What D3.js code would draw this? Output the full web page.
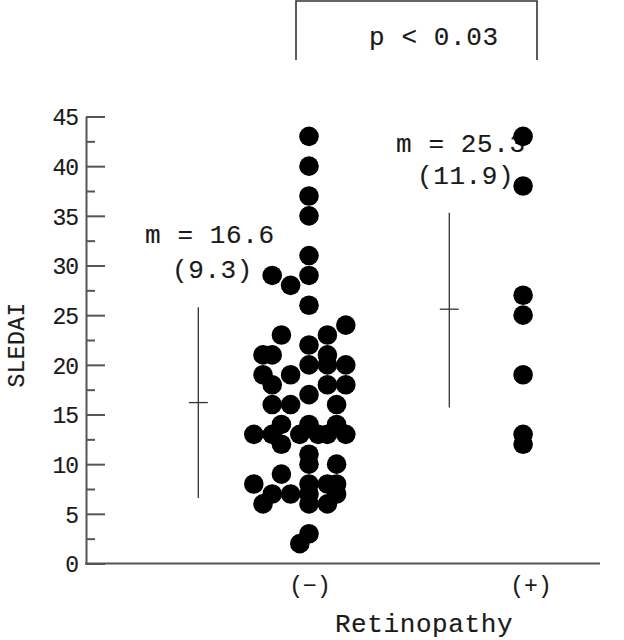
<!DOCTYPE html>
<html><head><meta charset="utf-8">
<script src="https://cdn.jsdelivr.net/npm/d3@7"></script>
<style>body{margin:0;background:#fff}</style>
</head><body>
<svg id="c" width="624" height="640"></svg>
<script>
// ---- data ----
const categories = ["(−)", "(+)"];
const negValues = [43,40,37,35,31,29,29,28,26,24,23,23,22,21,21,21,20,20,20,19,19,18,18,18,17,16,16,16,14,14,14,13,13,13,13,13,13,12,11,10,10,9,8,8,8,8,7,7,7,7,6,6,6,3,2];
const negSlots  = [0,0,0,0,0,0,-4,-2,0,4,-3,2,0,-5,-4,2,0,2,4,-5,-2,-4,2,4,0,-4,-2,3,-3,0,3,-6,-4,-1,1,2,4,-3,0,0,3,-3,-6,0,2,3,-4,-2,0,3,-5,0,2,0,-1];
const posValues = [43,38,27,25,19,13,12];
const posSlots  = [-0.75,-0.75,-0.75,-0.75,-0.75,-0.75,-0.75];
const yTicks = [0,5,10,15,20,25,30,35,40,45];
const yMinorTicks = [2.5,7.5,12.5,17.5,22.5,27.5,32.5,37.5,42.5];
const meanLabels = ["m = 16.6", "m = 25.3"];
const sdLabels = ["(9.3)", "(11.9)"];
const barMeans = [16.2, 25.6];
const barLows  = [6.6, 15.7];
const barHighs = [25.8, 35.3];
const pLabel = "p < 0.03";
const xTitle = "Retinopathy";
const yTitle = "SLEDAI";

// ---- layout ----
const slotW = 9.2, dotR = 9.8;
const barOffsets = [-110.7, -80.7];
const font = "'Liberation Mono', 'Courier New', monospace";
const ink = "#1a1a1a", axisCol = "#555";
const bigSize = 26, bigLS = 0.6;

const svg = d3.select("#c");
const y = d3.scaleLinear().domain([0,45]).range([563.5,116.5]);
const x = d3.scalePoint().domain(categories).range([309,530]);
const axisX = 86;

function styleText(sel, size, ls){
  return sel.attr("font-family",font).attr("font-size",size).attr("letter-spacing",ls)
    .attr("fill",ink).attr("stroke",ink).attr("stroke-width",0.15);
}

// y axis
const gy = svg.append("g").attr("transform",`translate(${axisX},0)`);
gy.call(d3.axisLeft(y).tickValues(yTicks).tickSizeInner(-19).tickSizeOuter(0).tickPadding(8).tickFormat(d3.format("d")));
gy.append("g").call(d3.axisLeft(y).tickValues(yMinorTicks).tickSizeInner(-9).tickSizeOuter(0).tickFormat(""))
  .select(".domain").remove();
gy.selectAll("path,line").attr("stroke",axisCol).attr("stroke-width",2);
styleText(gy.selectAll("text"), 23, -1.1).attr("dy","0.36em");

// x axis line
svg.append("line").attr("x1",axisX-1).attr("x2",600).attr("y1",y(0)).attr("y2",y(0))
  .attr("stroke",axisCol).attr("stroke-width",2);

// category labels
styleText(svg.selectAll("text.cat").data(categories).join("text").attr("class","cat")
  .attr("x",d=>x(d)+1).attr("y",593).attr("text-anchor","middle"), 23, 0)
  .text(d=>d);

// axis titles
styleText(svg.append("text").attr("x",424).attr("y",632).attr("text-anchor","middle"), bigSize, bigLS).text(xTitle);
styleText(svg.append("text").attr("transform","translate(24,345) rotate(-90)").attr("text-anchor","middle"), 23, 0.4).text(yTitle);

// mean/sd bars
categories.forEach((c,i)=>{
  const bx = x(c)+barOffsets[i];
  svg.append("line").attr("x1",bx).attr("x2",bx).attr("y1",y(barHighs[i])).attr("y2",y(barLows[i]))
    .attr("stroke","#333").attr("stroke-width",1.3);
  svg.append("line").attr("x1",bx-9.5).attr("x2",bx+9.5).attr("y1",y(barMeans[i])).attr("y2",y(barMeans[i]))
    .attr("stroke","#333").attr("stroke-width",1.3);
});

// mean labels
const mPos = [[145,243],[396,152]];
const sPos = [[172,278],[417,184]];
categories.forEach((c,i)=>{
  styleText(svg.append("text").attr("x",mPos[i][0]).attr("y",mPos[i][1]), bigSize, bigLS).text(meanLabels[i]);
  styleText(svg.append("text").attr("x",sPos[i][0]).attr("y",sPos[i][1]), bigSize, bigLS).text(sdLabels[i]);
});

// bracket + p label
const bl = x(categories[0]) - 13, br = x(categories[1]) + 7;
svg.append("path").attr("d",`M${bl},60V1H${br}V60`).attr("fill","none").attr("stroke","#333").attr("stroke-width",1.6);
styleText(svg.append("text").attr("x",369).attr("y",45), bigSize, bigLS).text(pLabel);

// dots
const pts = negValues.map((v,i)=>({c:categories[0],v,s:negSlots[i]}))
  .concat(posValues.map((v,i)=>({c:categories[1],v,s:posSlots[i]})));
svg.selectAll("circle.dot").data(pts).join("circle").attr("class","dot")
  .attr("cx",d=>x(d.c)+d.s*slotW).attr("cy",d=>y(d.v)).attr("r",dotR).attr("fill","#000");
</script>
</body></html>
